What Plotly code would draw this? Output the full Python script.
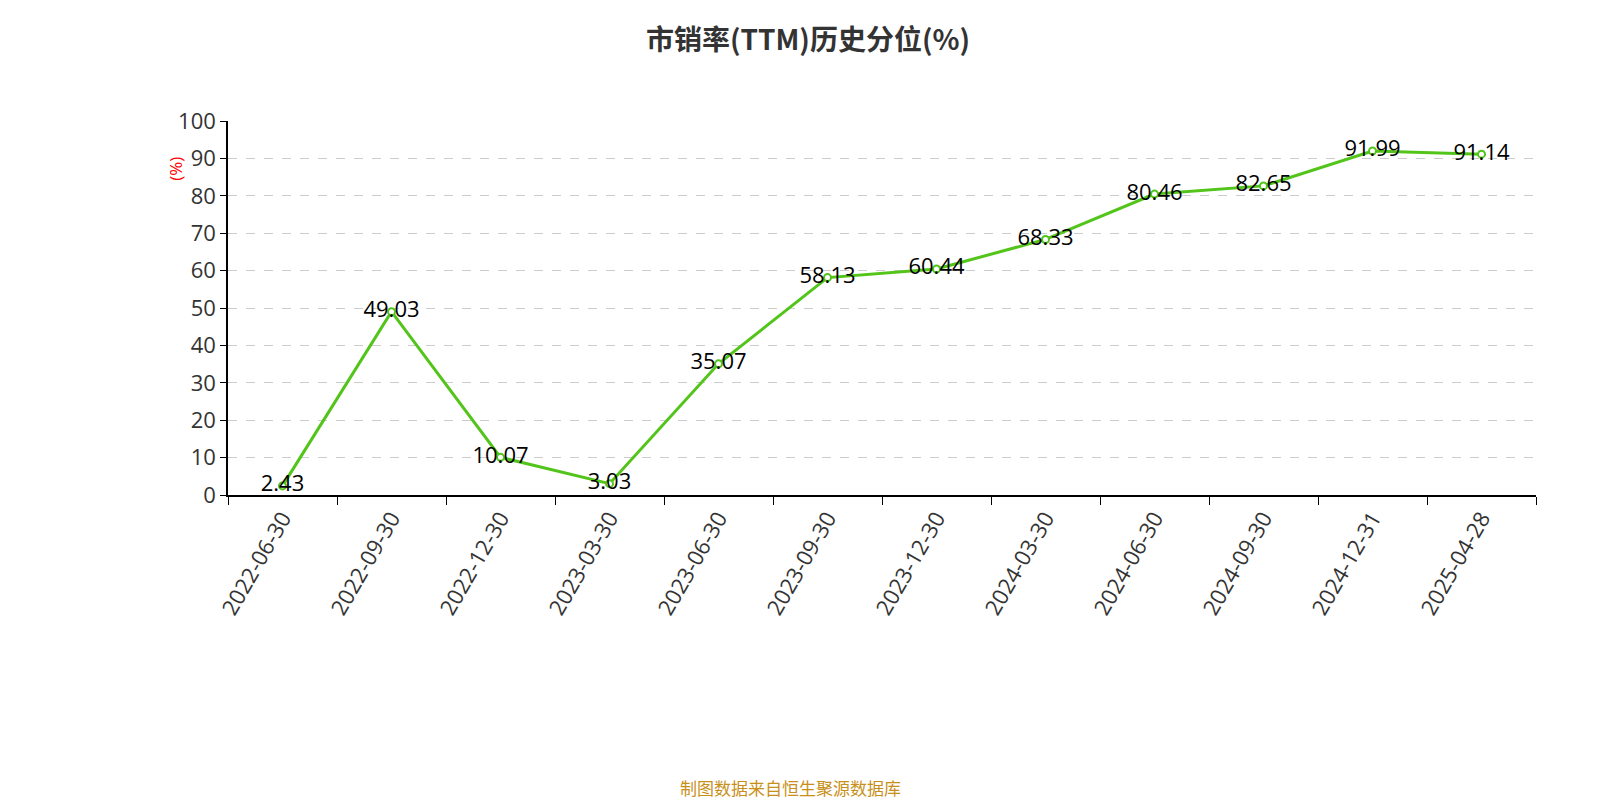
import plotly.graph_objects as go

dates = ["2022-06-30","2022-09-30","2022-12-30","2023-03-30","2023-06-30","2023-09-30",
         "2023-12-30","2024-03-30","2024-06-30","2024-09-30","2024-12-31","2025-04-28"]
values = [2.43,49.03,10.07,3.03,35.07,58.13,60.44,68.33,80.46,82.65,91.99,91.14]
labels = [f"{v:.2f}" for v in values]

fig = go.Figure(go.Scatter(
    x=dates, y=values, mode="lines+markers+text", text=labels,
    textposition="middle center", textfont=dict(size=22, color="#000", family="Open Sans"),
    line=dict(color="#52c41a", width=3),
    marker=dict(size=7, color="white", line=dict(color="#52c41a", width=2)),
    cliponaxis=False, hoverinfo="x+y"))

fig.update_layout(
    width=1600, height=800, plot_bgcolor="white", paper_bgcolor="white",
    margin=dict(l=220, r=72, t=113, b=313), showlegend=False,
    font=dict(family="Open Sans", color="#333"),
    title=dict(text="<b>市销率(TTM)历史分位(%)</b>", x=0.5, xanchor="center", y=0.972,
               font=dict(size=28, color="#333", family="Noto Sans CJK SC")),
    xaxis=dict(type="category", range=[-0.5, 11.5], tickson="boundaries", ticks="outside",
               ticklen=8, tickcolor="#000", showline=True, linecolor="#000", linewidth=1.5,
               showgrid=False, tickangle=-60, tickfont=dict(size=22, color="#333")),
    yaxis=dict(range=[0, 100], dtick=10, ticks="outside", ticklen=6, tickcolor="#000",
               showline=True, linecolor="#000", linewidth=1.5, gridcolor="#ccc",
               griddash="dash", zeroline=False, tickfont=dict(size=22, color="#333")),
    annotations=[
        dict(text="(%)", xref="paper", yref="paper", x=-0.05, y=0.91, showarrow=False,
             textangle=-90, font=dict(size=17, color="red")),
        dict(text="制图数据来自恒生聚源数据库", xref="paper", yref="paper", x=0.43, y=-0.82,
             xanchor="center", showarrow=False,
             font=dict(size=17, color="#c8901a", family="Noto Sans CJK SC")),
    ])

fig.write_html("out.html")
